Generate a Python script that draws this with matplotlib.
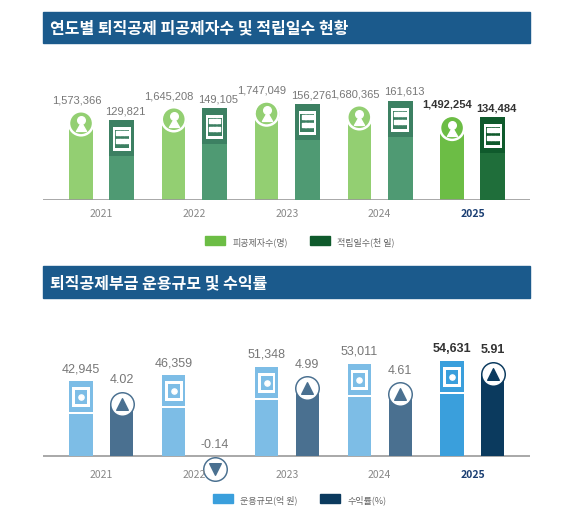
import matplotlib.pyplot as plt
from matplotlib.patches import Rectangle
from matplotlib.transforms import blended_transform_factory

plt.rcParams['font.family'] = ['Noto Sans CJK KR', 'DejaVu Sans']
NUM_FONT = ['Liberation Sans Narrow', 'Liberation Sans', 'DejaVu Sans']

years = ['2021', '2022', '2023', '2024', '2025']
members = [1573366, 1645208, 1747049, 1680365, 1492254]
days = [129821, 149105, 156276, 161613, 134484]
fund = [42945, 46359, 51348, 53011, 54631]
rate = [4.02, -0.14, 4.99, 4.61, 5.91]

W, H = 569, 510
fig = plt.figure(figsize=(W / 100, H / 100), dpi=100)


def fx(px):
    return px / W


def fy(px):
    return 1 - px / H


def header(y0, y1, text):
    fig.patches.append(Rectangle((fx(43), fy(y1)), fx(530) - fx(43), fy(y0) - fy(y1),
                                 transform=fig.transFigure, color='#1b5a8c', zorder=0))
    fig.text(fx(50), (fy(y0) + fy(y1)) / 2, text, color='white', fontsize=11.5,
             fontweight='bold', va='center', ha='left')


def pill(ax, x, top, w_px, color, ppu, zorder=2):
    r = w_px / 2 / ppu
    ax.bar(x, top - r, width=0.25, color=color, zorder=zorder)
    ax.scatter([x], [top - r], s=(w_px * 0.72) ** 2, color=color, zorder=zorder, linewidths=0)
    return top - r


def setup(ax, lo, hi):
    ax.set_ylim(lo, hi)
    ax.set_xlim(-0.63, 4.62)
    ax.axis('off')


def label(ax, x, y, s, last, size=9):
    ax.text(x, y, s, ha='center', va='bottom', fontsize=size, family=NUM_FONT,
            color='#333333' if last else '#777777', fontweight='bold' if last else 'normal')


off = 0.22

# ---------- top chart ----------
header(13, 44, '연도별 퇴직공제 피공제자수 및 적립일수 현황')
ax1 = fig.add_axes([fx(43), fy(201), fx(530) - fx(43), fy(80) - fy(201)])
ax1b = ax1.twinx()
m_hi, d_hi = 2146000, 197000
setup(ax1, 0, m_hi)
setup(ax1b, 0, d_hi)
ppu_m = 121 / m_hi
ppu_d = 121 / d_hi
for i, (m, d) in enumerate(zip(members, days)):
    last = i == 4
    lc = '#6cbd45' if last else '#93cf72'
    dc = '#1f6e3a' if last else '#4f9a73'
    dtop = '#0f5a2c' if last else '#3c8062'
    c = pill(ax1, i - off, m, 24, lc, ppu_m)
    ax1.scatter([i - off], [c], s=300, facecolor='none', edgecolor='white', linewidths=1.8, zorder=4)
    ax1.scatter([i - off], [c + 3 / ppu_m], s=30, color='white', zorder=4)
    ax1.scatter([i - off], [c - 5 / ppu_m], s=70, marker=(3, 0, 0), color='white', zorder=4)
    ax1b.bar(i + off, d, width=0.27, color=dc, zorder=2)
    ax1b.bar(i + off, 36 / ppu_d, bottom=d - 36 / ppu_d, width=0.27, color=dtop, zorder=3)
    ax1b.bar(i + off, 24 / ppu_d, bottom=d - 31 / ppu_d, width=0.19, color='white', zorder=4)
    ax1b.bar(i + off, 18 / ppu_d, bottom=d - 28 / ppu_d, width=0.15, color=dtop, zorder=5)
    for gx in (-0.04, 0, 0.04):
        for gy in (-13, -21):
            ax1b.scatter([i + off + gx], [d + gy / ppu_d], s=6, marker='s', color='white', zorder=6)
    label(ax1, i - off - 0.05, m + 7 / ppu_m, f'{m:,}', last, 8)
    label(ax1b, i + off + 0.04, d + 5 / ppu_d, f'{d:,}', last, 8)
ax1.axhline(0, color='#999999', lw=1.2, zorder=5)
tr1 = blended_transform_factory(ax1.transData, fig.transFigure)
for i, y in enumerate(years):
    fig.text(i, fy(214), y, transform=tr1, ha='center', va='center', fontsize=7.5,
             color='#1b3f73' if i == 4 else '#888888', fontweight='bold' if i == 4 else 'normal')
h1 = Rectangle((0, 0), 1, 1, color='#6cbd45')
h2 = Rectangle((0, 0), 1, 1, color='#0f5a2c')
fig.legend([h1, h2], ['피공제자수(명)', '적립일수(천 일)'], loc='center', bbox_to_anchor=(fx(300), fy(242)),
           ncol=2, frameon=False, fontsize=6.5, handlelength=2.2, handleheight=1.1, columnspacing=2.5,
           labelcolor='#666666')

# ---------- bottom chart ----------
header(267, 299, '퇴직공제부금 운용규모 및 수익률')
ax2 = fig.add_axes([fx(43), fy(490), fx(530) - fx(43), fy(340) - fy(490)])
ax2b = ax2.twinx()
f_hi, r_hi = 67300, 7.28
setup(ax2, -f_hi * 33 / 117, f_hi)
setup(ax2b, -r_hi * 33 / 117, r_hi)
ppu_f = 117 / f_hi
ppu_r = 117 / r_hi
for i, (f, r) in enumerate(zip(fund, rate)):
    last = i == 4
    fc = '#3a9fdc' if last else '#7dbde6'
    rc = '#0b3a5e' if last else '#4a7090'
    ax2.bar(i - off, f, width=0.25, color=fc, zorder=2)
    ax2.bar(i - off, 2 / ppu_f, bottom=f - 33 / ppu_f, width=0.25, color='white', zorder=3)
    ax2.bar(i - off, 20 / ppu_f, bottom=f - 26 / ppu_f, width=0.19, color='white', zorder=3)
    ax2.bar(i - off, 14 / ppu_f, bottom=f - 23 / ppu_f, width=0.13, color=fc, zorder=4)
    ax2.scatter([i - off], [f - 16 / ppu_f], s=14, color='white', zorder=5)
    if r >= 0:
        c = pill(ax2b, i + off, r, 25, rc, ppu_r)
    else:
        c = -13 / ppu_r
        ax2b.scatter([i + off], [c], s=(25 * 0.72) ** 2, color=rc, zorder=2, linewidths=0)
    ax2b.scatter([i + off], [c], s=220, color='white', zorder=4)
    ax2b.scatter([i + off], [c], s=70, marker='^' if r >= 0 else 'v', color=rc, zorder=5)
    label(ax2, i - off, f + 7 / ppu_f, f'{f:,}', last)
    label(ax2b, i + off, (r if r >= 0 else 0) + 6 / ppu_r, f'{r:.2f}', last)
ax2.axhline(0, color='#999999', lw=1.2, zorder=1)
tr2 = blended_transform_factory(ax2.transData, fig.transFigure)
for i, y in enumerate(years):
    fig.text(i, fy(475), y, transform=tr2, ha='center', va='center', fontsize=7.5,
             color='#1b3f73' if i == 4 else '#888888', fontweight='bold' if i == 4 else 'normal')
h3 = Rectangle((0, 0), 1, 1, color='#3a9fdc')
h4 = Rectangle((0, 0), 1, 1, color='#0b3a5e')
fig.legend([h3, h4], ['운용규모(억 원)', '수익률(%)'], loc='center', bbox_to_anchor=(fx(300), fy(500)),
           ncol=2, frameon=False, fontsize=6.5, handlelength=2.2, handleheight=1.1, columnspacing=2.5,
           labelcolor='#666666')

fig.savefig('out.png', dpi=100)
